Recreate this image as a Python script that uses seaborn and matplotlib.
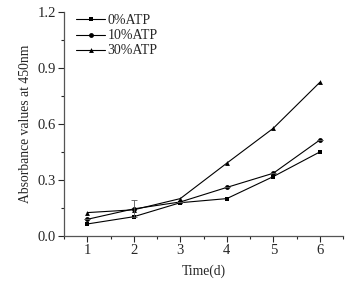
import matplotlib
matplotlib.use("Agg")
import matplotlib.pyplot as plt
import seaborn as sns
import pandas as pd
from matplotlib.ticker import MultipleLocator

days = [1, 2, 3, 4, 5, 6]
atp0 = [0.064, 0.103, 0.178, 0.200, 0.318, 0.450]
atp10 = [0.089, 0.145, 0.182, 0.260, 0.336, 0.514]
atp30 = [0.125, 0.140, 0.200, 0.390, 0.577, 0.823]
err10 = [0.0, 0.045, 0.0, 0.0, 0.0, 0.0]
labels = ["0%ATP", "10%ATP", "30%ATP"]
markers = ["s", "o", "^"]

rows = []
for lab, vals in zip(labels, [atp0, atp10, atp30]):
    for d, v in zip(days, vals):
        rows.append({"day": d, "value": v, "group": lab})
df = pd.DataFrame(rows)

sns.set_style("ticks")
plt.rcParams["font.family"] = ["Liberation Serif", "DejaVu Serif"]

fig = plt.figure(figsize=(3.54, 2.87), dpi=100)
ax = fig.add_axes([0.181, 0.178, 0.788, 0.78])

sns.lineplot(data=df, x="day", y="value", hue="group", style="group",
             markers=markers, dashes=False, palette=["black"] * 3,
             markersize=3.5, linewidth=0.8, markeredgewidth=0, ax=ax)
ax.errorbar(days, atp10, yerr=err10, fmt="none", ecolor="#555555",
            elinewidth=0.6, capsize=2, capthick=0.6)

ax.set_xlim(0.5, 6.5)
ax.set_ylim(0, 1.2)
ax.xaxis.set_major_locator(MultipleLocator(1))
ax.xaxis.set_minor_locator(MultipleLocator(0.5))
ax.yaxis.set_major_locator(MultipleLocator(0.3))
ax.yaxis.set_minor_locator(MultipleLocator(0.15))
ax.yaxis.set_major_formatter(matplotlib.ticker.FormatStrFormatter("%.1f"))
ax.tick_params(which="major", direction="out", length=4, width=0.8, labelsize=10.5, pad=2)
ax.tick_params(which="minor", direction="out", length=2, width=0.8)
for s in ["left", "bottom"]:
    ax.spines[s].set_color("#555555")
    ax.spines[s].set_linewidth(0.9)
sns.despine(ax=ax)

ax.set_xlabel("Time(d)", fontsize=9.8, labelpad=5)
ax.set_ylabel("Absorbance values at 450nm", fontsize=9.8, labelpad=4)

leg = ax.legend(loc="upper left", bbox_to_anchor=(0.043, 0.99), frameon=False,
                fontsize=10, handlelength=2.1, handletextpad=0.15,
                labelspacing=0.15, borderaxespad=0, borderpad=0)

fig.savefig("out.png", dpi=100)
